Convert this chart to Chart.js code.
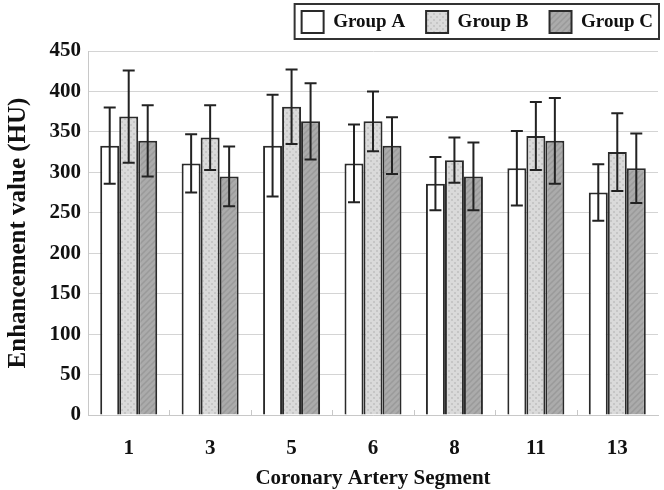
<!DOCTYPE html>
<html>
<head>
<meta charset="utf-8">
<script src="https://cdn.jsdelivr.net/npm/chart.js@4"></script>
<style>
  html, body { margin: 0; padding: 0; background: #fff; }
  #wrap { width: 664px; height: 490px; }
</style>
</head>
<body>
<div id="wrap"><canvas id="chart" width="664" height="490"></canvas></div>
<script>
// segment labels and mean values (HU)
const segments = ['1', '3', '5', '6', '8', '11', '13'];
const groupA = [333, 311, 333, 311, 286, 305, 275];
const groupB = [369, 343, 381, 363, 315, 345, 325];
const groupC = [339, 295, 363, 333, 295, 339, 305];
// standard deviations (error bars)
const errA = [47, 36, 63, 48, 33, 46, 35];
const errB = [57, 40, 46, 37, 28, 42, 48];
const errC = [44, 37, 47, 35, 42, 53, 43];

const SERIF = "'Liberation Serif', 'Times New Roman', serif";
const LEGEND_PAD = 21;

// fill patterns like the original (dotted light gray, hatched dark gray)
function dotPattern() {
  const c = document.createElement('canvas');
  c.width = 6; c.height = 6;
  const g = c.getContext('2d');
  g.fillStyle = '#dadada';
  g.fillRect(0, 0, 6, 6);
  g.fillStyle = '#c6c6c6';
  g.fillRect(1, 1, 2, 2);
  g.fillRect(4, 4, 2, 2);
  return g.createPattern(c, 'repeat');
}
function hatchPattern() {
  const c = document.createElement('canvas');
  c.width = 6; c.height = 6;
  const g = c.getContext('2d');
  g.fillStyle = '#ababab';
  g.fillRect(0, 0, 6, 6);
  g.strokeStyle = '#9a9a9a';
  g.lineWidth = 1.5;
  g.beginPath();
  g.moveTo(0, 6); g.lineTo(6, 0);
  g.moveTo(-3, 3); g.lineTo(3, -3);
  g.moveTo(3, 9); g.lineTo(9, 3);
  g.stroke();
  return g.createPattern(c, 'repeat');
}

const errors = [errA, errB, errC];

// error bars, legend frame/placement, small separator ticks on x axis
const extras = {
  id: 'extras',
  beforeInit(chart) {
    // legend reserves 50px above the plot
    const lg = chart.legend;
    const fit = lg.fit;
    lg.fit = function () { fit.call(this); this.height = 50; };
  },
  afterLayout(chart) {
    // place legend items in the top-right corner like the original
    const lg = chart.legend;
    lg.top = 11 - LEGEND_PAD;
    lg.bottom = 45;
    lg.right = 653 + LEGEND_PAD;
  },
  afterDatasetsDraw(chart) {
    const ctx = chart.ctx;
    const y = chart.scales.y;
    ctx.save();
    ctx.strokeStyle = '#222';
    ctx.lineWidth = 2;
    chart.data.datasets.forEach((ds, di) => {
      const meta = chart.getDatasetMeta(di);
      meta.data.forEach((bar, i) => {
        const v = ds.data[i], e = errors[di][i];
        const top = y.getPixelForValue(v + e);
        const bot = y.getPixelForValue(v - e);
        const x = bar.x;
        ctx.beginPath();
        ctx.moveTo(x, top); ctx.lineTo(x, bot);
        ctx.moveTo(x - 6, top); ctx.lineTo(x + 6, top);
        ctx.moveTo(x - 6, bot); ctx.lineTo(x + 6, bot);
        ctx.stroke();
      });
    });
    // separator ticks
    const xs = chart.scales.x;
    const area = chart.chartArea;
    ctx.strokeStyle = '#c8c8c8';
    ctx.lineWidth = 1;
    for (let i = 0; i < segments.length - 1; i++) {
      const px = Math.round((xs.getPixelForValue(i) + xs.getPixelForValue(i + 1)) / 2) + 0.5;
      ctx.beginPath();
      ctx.moveTo(px, area.bottom);
      ctx.lineTo(px, area.bottom - 5);
      ctx.stroke();
    }
    ctx.restore();
  },
  afterDraw(chart) {
    const boxes = chart.legend.legendHitBoxes;
    if (!boxes || !boxes.length) return;
    let x0 = Infinity, y0 = Infinity, x1 = -Infinity, y1 = -Infinity;
    boxes.forEach(b => {
      x0 = Math.min(x0, b.left); y0 = Math.min(y0, b.top);
      x1 = Math.max(x1, b.left + b.width); y1 = Math.max(y1, b.top + b.height);
    });
    const ctx = chart.ctx;
    ctx.save();
    ctx.strokeStyle = '#333';
    ctx.lineWidth = 2;
    ctx.strokeRect(x0 - 7, y0 - 7, x1 - x0 + 13, y1 - y0 + 13);
    ctx.restore();
  }
};

new Chart(document.getElementById('chart'), {
  type: 'bar',
  data: {
    labels: segments,
    datasets: [
      { label: 'Group A', data: groupA, backgroundColor: '#ffffff', borderColor: '#2a2a2a', borderWidth: 2 },
      { label: 'Group B', data: groupB, backgroundColor: dotPattern(), borderColor: '#2a2a2a', borderWidth: 2 },
      { label: 'Group C', data: groupC, backgroundColor: hatchPattern(), borderColor: '#2a2a2a', borderWidth: 2 }
    ]
  },
  options: {
    responsive: false,
    animation: false,
    layout: { padding: { top: 1, right: 6, left: 0, bottom: 2 } },
    datasets: { bar: { categoryPercentage: 0.7, barPercentage: 1.0 } },
    plugins: {
      tooltip: { enabled: false },
      legend: {
        position: 'top',
        align: 'end',
        labels: {
          boxWidth: 22,
          boxHeight: 22,
          padding: LEGEND_PAD,
          color: '#111',
          font: { family: SERIF, size: 19, weight: 'bold' }
        }
      }
    },
    scales: {
      x: {
        grid: { display: false },
        border: { color: '#c8c8c8' },
        ticks: { color: '#111', padding: 13, font: { family: SERIF, size: 21, weight: 'bold' } },
        title: { display: true, text: 'Coronary Artery Segment', color: '#111', padding: { top: 0, bottom: -3 },
                 font: { family: SERIF, size: 21, weight: 'bold' } },
        afterFit(s) { s.height = 73; }
      },
      y: {
        min: 0, max: 450,
        ticks: { stepSize: 50, color: '#111', padding: 7, font: { family: SERIF, size: 21, weight: 'bold' } },
        grid: { color: '#d4d4d4', drawTicks: false },
        border: { color: '#c8c8c8' },
        title: { display: true, text: 'Enhancement value (HU)', color: '#111', padding: { bottom: 4 },
                 font: { family: SERIF, size: 25, weight: 'bold' } },
        afterFit(s) { s.width = 88; }
      }
    }
  },
  plugins: [extras]
});
</script>
</body>
</html>
